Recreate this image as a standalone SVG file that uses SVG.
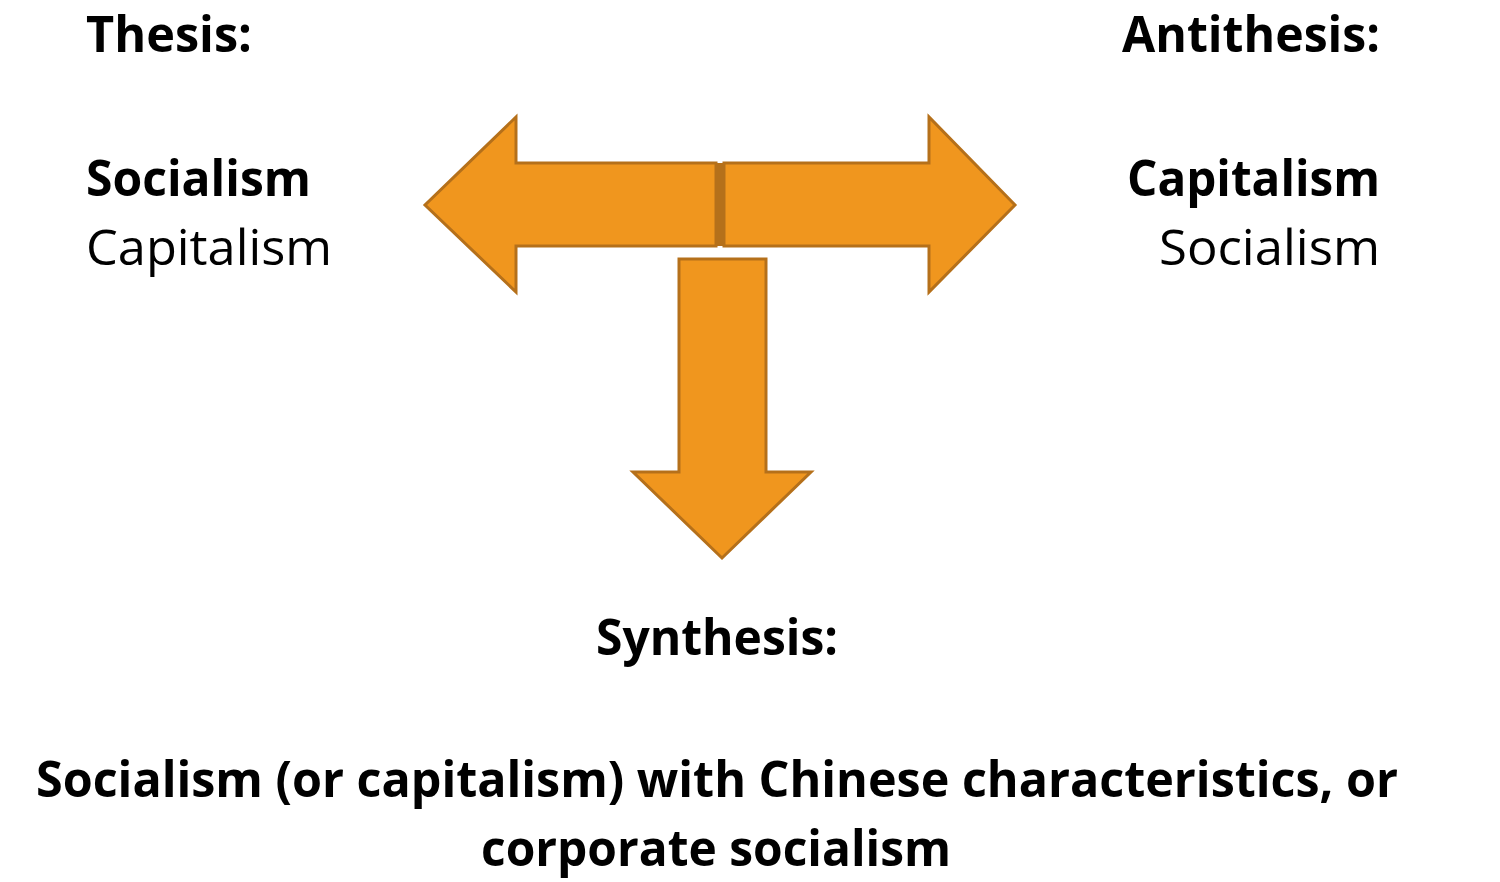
<svg xmlns="http://www.w3.org/2000/svg" width="1500" height="882" viewBox="0 0 1500 882">
<style>
.t{font-family:"Open Sans","Liberation Sans",sans-serif;font-size:50px;fill:#000}
.b{font-weight:bold}
.arrow{fill:#F0961E;stroke:#B5701A;stroke-width:3;stroke-linejoin:miter}
</style>
<rect width="1500" height="882" fill="#fff"/>
<g id="connectors">
<g id="arrow-left"><path class="arrow" d="M716,163 L516,163 L516,117 L425,205 L516,292 L516,246 L716,246 Z"/></g>
<g id="arrow-right"><path class="arrow" d="M724,163 L929,163 L929,117 L1015,205 L929,292 L929,246 L724,246 Z"/></g>
<rect x="715" y="163" width="10" height="83" fill="#B5701A"/>
<g id="arrow-down"><path class="arrow" d="M679,259 L766,259 L766,472 L811,472 L722,558 L633,472 L679,472 Z"/></g>
</g>
<g id="thesis">
<text class="t b" x="86" y="52" textLength="166" lengthAdjust="spacingAndGlyphs">Thesis:</text>
<text class="t b" x="86" y="196" textLength="225" lengthAdjust="spacingAndGlyphs">Socialism</text>
<text class="t" x="86" y="265" textLength="246" lengthAdjust="spacingAndGlyphs">Capitalism</text>
</g>
<g id="antithesis">
<text class="t b" x="1122" y="52" textLength="258" lengthAdjust="spacingAndGlyphs">Antithesis:</text>
<text class="t b" x="1127" y="196" textLength="253" lengthAdjust="spacingAndGlyphs">Capitalism</text>
<text class="t" x="1159" y="265" textLength="221" lengthAdjust="spacingAndGlyphs">Socialism</text>
</g>
<g id="synthesis">
<text class="t b" x="596" y="655" textLength="242" lengthAdjust="spacingAndGlyphs">Synthesis:</text>
<text class="t b" x="36" y="797" textLength="1362" lengthAdjust="spacingAndGlyphs">Socialism (or capitalism) with Chinese characteristics, or</text>
<text class="t b" x="481" y="866" textLength="470" lengthAdjust="spacingAndGlyphs">corporate socialism</text>
</g>
</svg>
